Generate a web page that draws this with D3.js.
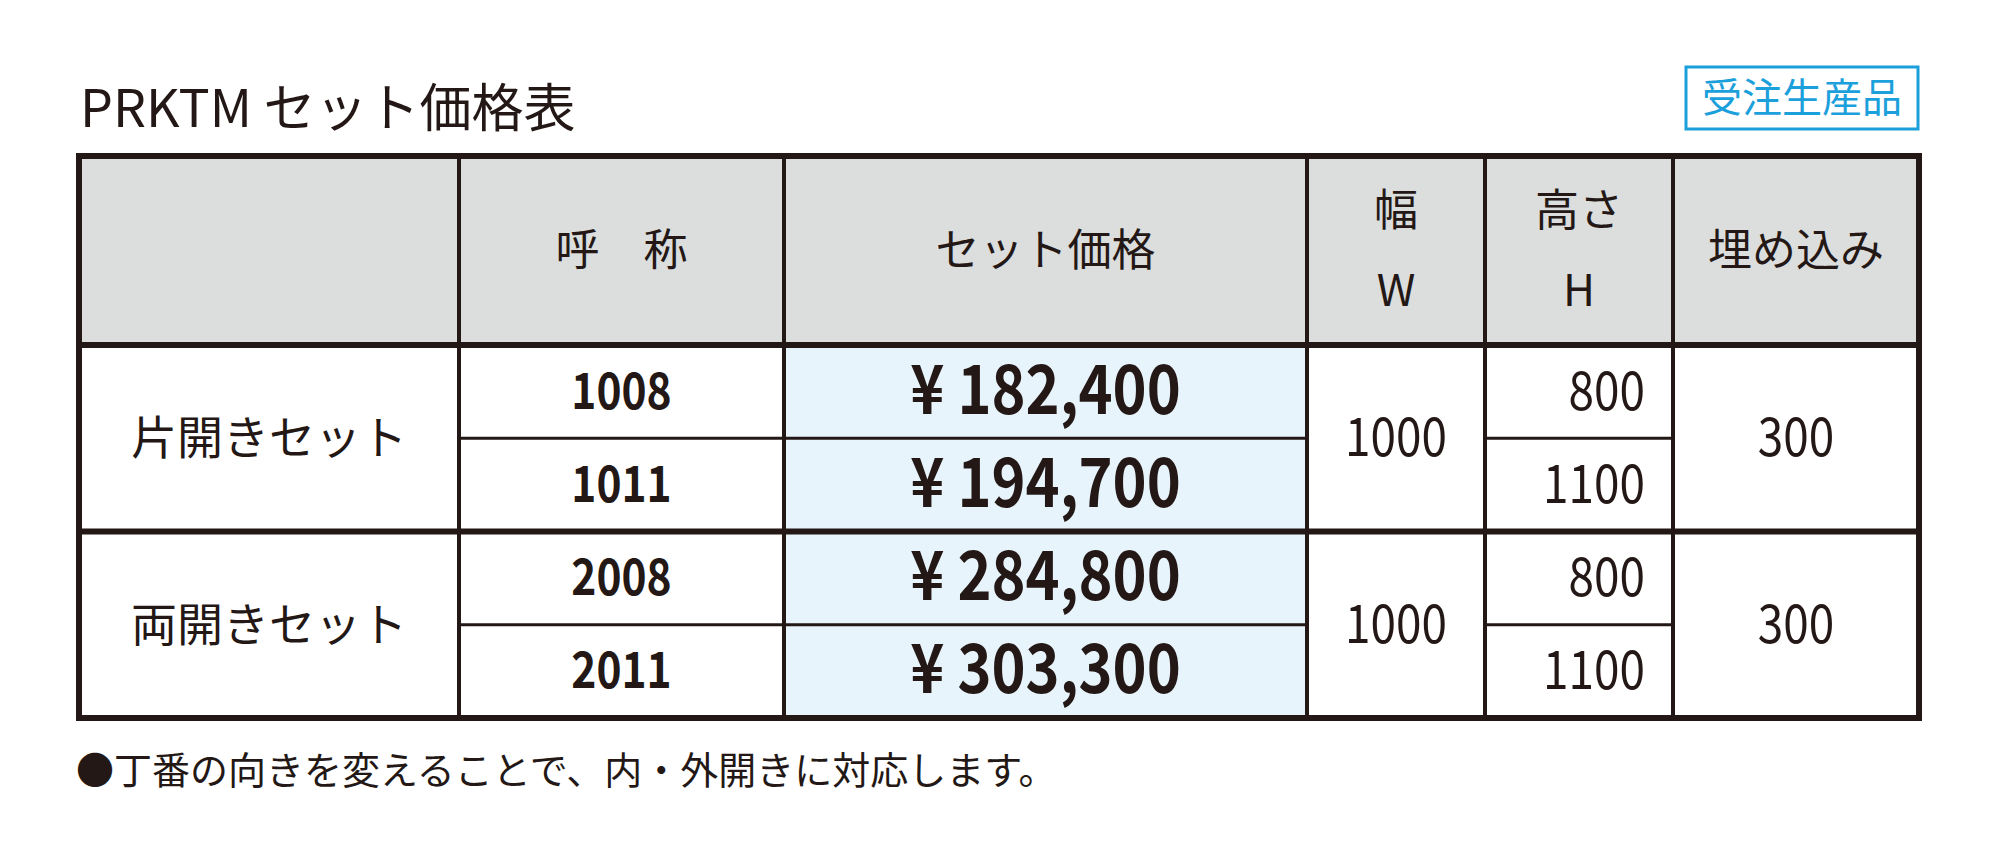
<!DOCTYPE html>
<html><head><meta charset="utf-8">
<script src="https://cdn.jsdelivr.net/npm/d3@7/dist/d3.min.js"></script>
<style>body{margin:0;background:#fff}</style></head>
<body><svg id="c" width="1999" height="844"></svg>
<script>
const title = "PRKTM セット価格表";
const badge = "受注生産品";
const headers = ["", "呼　称", "セット価格", "幅\nW", "高さ\nH", "埋め込み"];
const groups = ["片開きセット", "両開きセット"];
const codes = ["1008", "1011", "2008", "2011"];
const prices = [182400, 194700, 284800, 303300];
const widths = [1000, 1000];
const heights = ["800", "1100", "800", "1100"];
const embeds = [300, 300];
const note = "●丁番の向きを変えることで、内・外開きに対応します。";

(function(){
const svg = d3.select("#c");
const F = "'Noto Sans CJK JP', 'Noto Sans', sans-serif";
const colX = [79, 459, 784, 1307, 1485, 1673, 1919];
const tTop = 156, headH = 189, bottom = 718;
const y = d3.scaleBand().domain(d3.range(4)).range([tTop + headH, bottom]);
const ink = "#231815";

svg.append("text").attr("x", 80).attr("y", 127).attr("font-family", F)
  .attr("font-size", 52).attr("fill", ink).text(title);
svg.append("rect").attr("x", 1686).attr("y", 67).attr("width", 232).attr("height", 62)
  .attr("fill", "#fff").attr("stroke", "#1ba0dc").attr("stroke-width", 3);
svg.append("text").attr("x", 1802).attr("y", 112).attr("text-anchor", "middle")
  .attr("font-family", F).attr("font-size", 40).attr("fill", "#1ba0dc").text(badge);

svg.append("rect").attr("x", colX[0]).attr("y", tTop).attr("width", colX[6] - colX[0])
  .attr("height", headH).attr("fill", "#dcdddd");
svg.append("rect").attr("x", colX[2]).attr("y", tTop + headH).attr("width", colX[3] - colX[2])
  .attr("height", bottom - tTop - headH).attr("fill", "#e8f4fc");

headers.forEach((h, i) => {
  const cx = (colX[i] + colX[i + 1]) / 2, lines = h.split("\n");
  lines.forEach((l, j) => {
    svg.append("text").attr("x", cx)
      .attr("y", tTop + headH / 2 + 15 + (lines.length > 1 ? (j - 0.5) * 80 : 0))
      .attr("text-anchor", "middle").attr("font-family", F).attr("font-size", 44)
      .attr("fill", ink).text(l);
  });
});

function num(x, yy, t, size, weight, anchor) {
  svg.append("text").attr("transform", `translate(${x},${yy}) scale(0.85,1)`)
    .attr("text-anchor", anchor || "middle").attr("font-family", F)
    .attr("font-size", size).attr("font-weight", weight || 400).attr("fill", ink).text(t);
}
groups.forEach((g, i) => {
  const cy = y(i * 2) + y.bandwidth();
  svg.append("text").attr("x", (colX[0] + colX[1]) / 2).attr("y", cy + 16)
    .attr("text-anchor", "middle").attr("font-family", F).attr("font-size", 46)
    .attr("fill", ink).text(g);
  num((colX[3] + colX[4]) / 2, cy + 18, widths[i], 54);
  num((colX[5] + colX[6]) / 2, cy + 18, embeds[i], 54);
});
codes.forEach((c, i) => {
  const cy = y(i) + y.bandwidth() / 2;
  num((colX[1] + colX[2]) / 2, cy + 17, c, 50, 700);
  num((colX[2] + colX[3]) / 2, cy + 22, "¥ " + d3.format(",")(prices[i]), 68, 700);
  num(colX[5] - 28, cy + 18, heights[i], 54, 400, "end");
});

const L = (x1, y1, x2, y2, w) => svg.append("line").attr("x1", x1).attr("y1", y1)
  .attr("x2", x2).attr("y2", y2).attr("stroke", ink).attr("stroke-width", w);
colX.slice(1, 6).forEach(x => L(x, tTop, x, bottom, 4));
[0, 2].forEach(i => {
  const yy = y(i) + y.bandwidth();
  L(colX[1], yy, colX[3], yy, 3);
  L(colX[4], yy, colX[5], yy, 3);
});
L(colX[0], tTop + headH, colX[6], tTop + headH, 6);
L(colX[0], y(2), colX[6], y(2), 6);
svg.append("rect").attr("x", colX[0]).attr("y", tTop).attr("width", colX[6] - colX[0])
  .attr("height", bottom - tTop).attr("fill", "none").attr("stroke", ink).attr("stroke-width", 6);

svg.append("text").attr("x", 76).attr("y", 784).attr("font-family", F)
  .attr("font-size", 38).attr("fill", ink).text(note);
})();
</script></body></html>
